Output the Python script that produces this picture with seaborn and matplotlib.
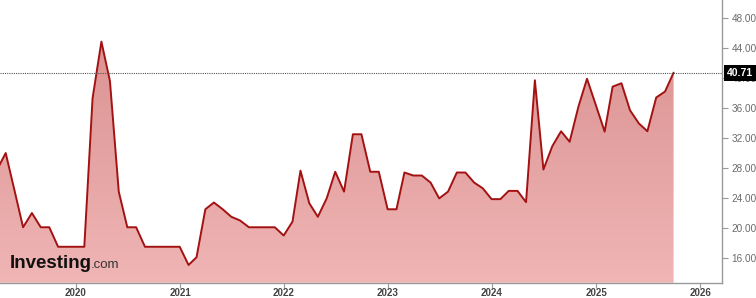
import numpy as np
import pandas as pd
import matplotlib
matplotlib.use("Agg")
import matplotlib.pyplot as plt
import matplotlib.dates as mdates
import matplotlib.transforms as mtransforms
from matplotlib.colors import LinearSegmentedColormap
import seaborn as sns

# ---- data (monthly, Apr 2019 .. Oct 2025) ----
dates = pd.date_range("2019-03-31", periods=79, freq="ME")
values = [
    27.8, 30.0, 25.0, 20.1, 22.0, 20.1, 20.1, 17.5, 17.5,                      # 2019 Apr-Dec
    17.5, 17.5, 37.3, 44.85, 39.6, 24.85, 20.1, 20.1, 17.5, 17.5, 17.5, 17.5,  # 2020
    17.5, 15.07, 16.1, 22.5, 23.4, 22.5, 21.5, 21.0, 20.1, 20.1, 20.1, 20.1,   # 2021
    19.0, 20.85, 27.65, 23.3, 21.5, 23.95, 27.5, 24.85, 32.5, 32.5, 27.5, 27.5,  # 2022
    22.5, 22.5, 27.4, 27.0, 27.0, 26.05, 23.95, 24.85, 27.4, 27.4, 26.05, 25.3,  # 2023
    23.85, 23.85, 24.95, 24.95, 23.45, 39.7, 27.8, 30.9, 32.9, 31.5, 36.2, 39.9,  # 2024
    36.4, 32.85, 38.85, 39.3, 35.7, 33.95, 32.9, 37.4, 38.2, 40.71,            # 2025
]
last_value = 40.71
y_ticks = [16, 20, 24, 28, 32, 36, 40, 44, 48]
x_tick_years = [2020, 2021, 2022, 2023, 2024, 2025, 2026]

df = pd.DataFrame({"date": dates, "value": values})

sns.set_style("white")
plt.rcParams["font.family"] = ["Liberation Sans", "DejaVu Sans"]

W, H = 756, 298
fig = plt.figure(figsize=(W / 100, H / 100), dpi=100)
ax_bottom_px = 15.3
ax = fig.add_axes([0, ax_bottom_px / H, 722 / W, 1 - ax_bottom_px / H])

ymin, ymax = 12.71, 50.4
xmin = mdates.date2num(pd.Timestamp("2019-04-10"))
xmax = mdates.date2num(pd.Timestamp("2026-03-19"))

# line
sns.lineplot(data=df, x="date", y="value", ax=ax, color="#a31212",
             linewidth=1.4, zorder=4)

# gradient fill under the line
poly = ax.fill_between(df["date"], df["value"], ymin, facecolor="none",
                       edgecolor="none", linewidth=0)
cmap = LinearSegmentedColormap.from_list("g", ["#f0b5b5", "#d88d8d"])
grad = np.linspace(0, 1, 256).reshape(-1, 1)
im = ax.imshow(grad, extent=[xmin, xmax, ymin, ymax], origin="lower",
               aspect="auto", cmap=cmap, zorder=2, interpolation="bilinear")
im.set_clip_path(poly.get_paths()[0], transform=ax.transData)

ax.set_xlim(xmin, xmax)
ax.set_ylim(ymin, ymax)

# dotted last-value line
ax.axhline(last_value, color="#555555", linestyle=(0, (1, 1)), linewidth=0.8, zorder=5)

# axes styling
for s in ["top", "left"]:
    ax.spines[s].set_visible(False)
for s in ["bottom", "right"]:
    ax.spines[s].set_color("#999999")
    ax.spines[s].set_linewidth(1.0)

ax.yaxis.tick_right()
ax.set_yticks(y_ticks)
ax.set_yticklabels([f"{v:.2f}" for v in y_ticks])
ax.set_xticks([mdates.date2num(pd.Timestamp(f"{y}-01-01")) for y in x_tick_years])
ax.set_xticklabels([str(y) for y in x_tick_years])
ax.tick_params(axis="y", which="both", right=True, left=False, length=4, width=0.8,
               color="#999999", labelcolor="#6a6a6a", labelsize=7.2, pad=3)
ax.tick_params(axis="x", which="both", bottom=True, length=3.5, width=0.8,
               color="#999999", labelcolor="#444444", labelsize=7.0, pad=0.5)
for lab in ax.get_xticklabels():
    lab.set_fontweight("bold")
ax.set_xlabel("")
ax.set_ylabel("")
ax.grid(False)

# last value label
trans = mtransforms.blended_transform_factory(ax.transAxes, ax.transData)
trans = trans + mtransforms.ScaledTranslation(5 / 100, 0, fig.dpi_scale_trans)
ax.text(1.0, last_value, f"{last_value:.2f}", transform=trans, ha="left",
        va="center", color="white", fontweight="bold", fontsize=7.5, zorder=10,
        clip_on=False,
        bbox=dict(boxstyle="square,pad=0.3", facecolor="black", edgecolor="none"))

# watermark
fig.text(10 / W, 1 - 267.5 / H, "Investing", fontsize=13.5, fontweight="bold",
         color="#111111", ha="left", va="baseline", zorder=10)
fig.text(91 / W, 1 - 267.5 / H, ".com", fontsize=9.5, color="#333333",
         ha="left", va="baseline", zorder=10)

fig.savefig("out.png", dpi=100)
